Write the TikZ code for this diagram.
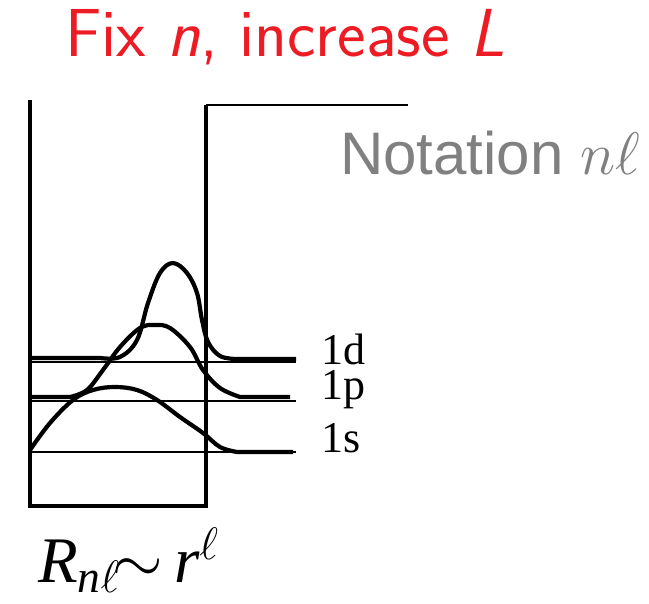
\documentclass[tikz,border=0pt]{standalone}
\usepackage{fix-cm}
\usepackage{amsmath}
\usepackage{fontspec}
\setmainfont{Liberation Serif}
\newfontfamily\notefont{Liberation Sans}
\usepackage{xcolor}
\definecolor{titlered}{RGB}{237,28,36}
\definecolor{notegray}{RGB}{128,128,128}
\begin{document}
\begin{tikzpicture}[
  x=1pt, y=-1pt,
  wall/.style={line width=3.2pt},
  rim/.style={line width=2pt},
  level/.style={line width=1.5pt},
  wave/.style={line width=4.2pt, line join=round},
  title/.style={font=\fontsize{68}{76}\selectfont\sffamily, text=titlered, inner sep=0pt, anchor=base west},
  note/.style={font=\fontsize{60}{66}\selectfont\notefont, text=notegray, inner sep=0pt, anchor=base west},
  lvl/.style={font=\fontsize{44}{50}\selectfont, inner sep=0pt, anchor=base west},
  formula/.style={font=\fontsize{65}{74}\selectfont, inner sep=0pt, anchor=base west}
]
\useasboundingbox (0,0) rectangle (649,604);

\node[title] (head) at (65,57) {Fix \textit{n}, increase \textit{L}};
\node[note] (notation) at (340,175) {Notation $n\ell$};

% square well
\draw[wall] (30,100) -- (30,506) -- (206,506) -- (206,105);
\draw[rim] (206,105) -- (408,105);

% energy levels
\foreach \y in {362,401,452}
  \draw[level] (28,\y) -- (296,\y);

% radial waves
\draw[wave] (30,358) -- plot[smooth, tension=0.6] coordinates {(100,358) (120,357) (137,340) (148,303) (160,273) (173,263) (187,273) (197,293) (202,320) (208,342) (220,356) (236,359)} -- (296,359);
\draw[wave] (30,397) -- plot[smooth, tension=0.6] coordinates {(70,397) (87,390) (103,370) (120,347) (140,328) (155,325) (170,328) (190,347) (203,370) (220,388) (240,397)} -- (290,397);
\draw[wave] plot[smooth, tension=0.6] coordinates {(30,450) (50,423) (73,400) (93,390) (115,387) (137,390) (157,400) (180,417) (203,433) (220,447) (237,452)} -- (293,452);

\node[lvl] (l1d) at (321,365) {1d};
\node[lvl] (l1p) at (321,400) {1p};
\node[lvl] (l1s) at (321,453) {1s};

\node[formula] (rad) at (38,583) {$\textit{R}_{\textit{n}\ell}\mskip-2mu{\sim}\mskip3mu\textit{r}^{\ell}$};
\end{tikzpicture}
\end{document}
